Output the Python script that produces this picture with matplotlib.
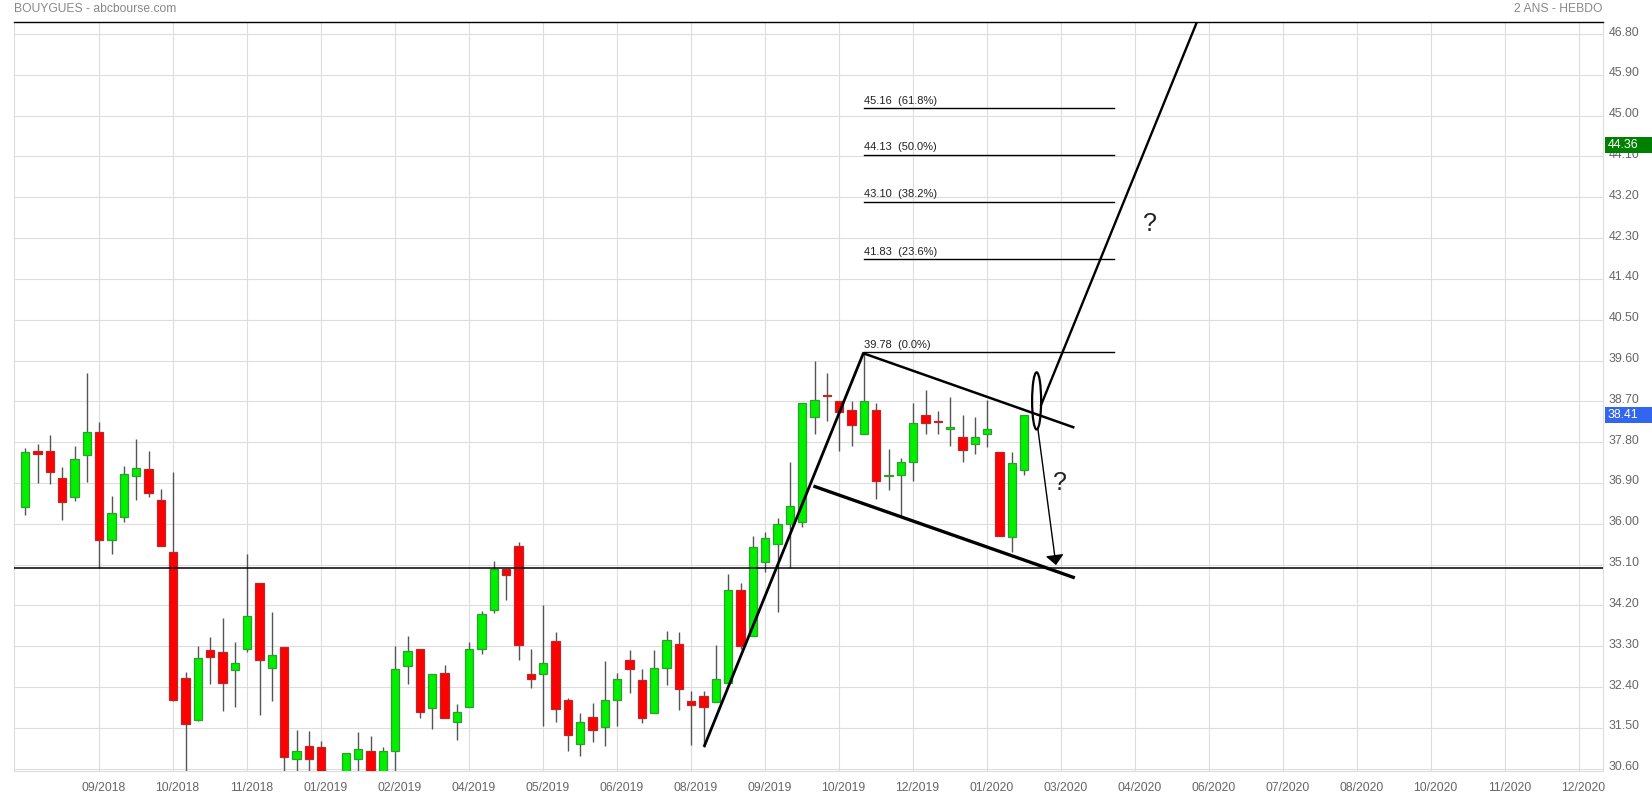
import matplotlib
matplotlib.use("Agg")
import matplotlib.pyplot as plt
from matplotlib.patches import Ellipse, Rectangle, FancyArrowPatch
from matplotlib.transforms import ScaledTranslation, blended_transform_factory
import numpy as np

plt.rcParams['font.family'] = ['Liberation Sans', 'DejaVu Sans']

# Weekly candles (index 0 = first week shown)
opens = [36.36, 37.60, 37.60, 37.02, 36.58, 37.52, 38.02, 35.65, 36.16, 37.05,
         37.20, 36.52, 35.37, 32.59, 31.67, 33.21, 33.17, 32.77, 33.25, 34.69,
         32.83, 33.28, 30.81, 31.09, 31.07, 30.45, 30.45, 30.82, 30.98, 30.50,
         31.00, 32.86, 33.25, 31.93, 32.70, 31.64, 31.95, 33.25, 34.09, 35.00,
         35.52, 32.68, 32.68, 33.41, 32.11, 31.14, 31.75, 31.51, 32.11, 32.99,
         32.55, 31.82, 32.81, 33.34, 32.09, 32.20, 32.06, 32.50, 34.53, 33.52,
         35.15, 35.55, 35.99, 36.05, 38.35, 38.83, 38.70, 38.50, 37.99, 38.52,
         37.05, 37.07, 37.36, 38.41, 38.27, 38.08, 37.91, 37.75, 37.99, 37.58,
         35.70, 37.18]
highs = [37.67, 37.76, 37.95, 37.25, 37.72, 39.32, 38.24, 36.61, 37.27, 37.87,
         37.60, 36.77, 37.14, 32.73, 33.31, 33.50, 33.92, 33.39, 35.33, 34.69,
         34.05, 33.29, 31.45, 31.43, 31.21, 30.50, 30.94, 31.41, 31.32, 31.08,
         33.31, 33.53, 33.25, 32.68, 32.89, 32.02, 33.39, 34.07, 35.17, 35.00,
         35.59, 33.23, 34.21, 33.61, 32.15, 31.82, 32.04, 32.97, 32.72, 33.21,
         32.79, 33.21, 33.63, 33.61, 32.31, 32.31, 33.32, 34.89, 34.69, 35.72,
         35.81, 36.12, 37.36, 38.66, 39.59, 39.32, 38.70, 38.70, 39.76, 38.66,
         37.66, 37.44, 38.66, 38.94, 38.48, 38.79, 38.41, 38.35, 38.74, 37.58,
         37.58, 38.41]
lows = [36.20, 36.91, 36.88, 36.09, 36.51, 36.93, 35.02, 35.34, 36.05, 36.53,
        36.60, 35.52, 32.10, 30.40, 31.66, 32.47, 31.88, 31.97, 33.18, 31.79,
        32.10, 30.45, 30.45, 30.45, 30.30, 30.25, 30.40, 30.45, 30.40, 30.45,
        30.56, 32.47, 31.72, 31.48, 31.71, 31.23, 31.95, 33.12, 34.03, 34.33,
        32.99, 32.37, 31.55, 31.64, 30.98, 30.87, 31.18, 31.11, 31.55, 32.26,
        31.60, 31.82, 32.44, 31.89, 31.12, 31.08, 32.06, 32.50, 33.23, 33.52,
        34.93, 34.06, 35.02, 35.92, 37.99, 38.26, 37.60, 37.72, 37.99, 36.54,
        36.74, 36.16, 36.95, 37.97, 37.97, 37.71, 37.36, 37.53, 37.69, 35.72,
        35.37, 37.07]
closes = [37.58, 37.55, 37.15, 36.49, 37.42, 38.02, 35.65, 36.23, 37.09, 37.22,
          36.69, 35.52, 32.11, 31.58, 33.03, 33.06, 32.50, 32.92, 33.96, 32.99,
          33.10, 30.85, 30.98, 30.82, 30.45, 30.40, 30.94, 31.03, 30.50, 31.00,
          32.79, 33.19, 31.84, 32.68, 31.71, 31.84, 33.23, 34.00, 35.00, 34.86,
          33.32, 32.57, 32.94, 31.91, 31.34, 31.64, 31.45, 32.11, 32.57, 32.79,
          31.71, 32.83, 33.43, 32.35, 32.00, 31.97, 32.57, 34.55, 33.30, 35.48,
          35.68, 35.99, 36.39, 38.66, 38.74, 38.81, 38.46, 38.17, 38.70, 36.95,
          37.07, 37.36, 38.22, 38.22, 38.24, 38.13, 37.62, 37.91, 38.08, 35.72,
          37.33, 38.41]

month_labels = ['09/2018', '10/2018', '11/2018', '01/2019', '02/2019', '04/2019',
                '05/2019', '06/2019', '08/2019', '09/2019', '10/2019', '12/2019',
                '01/2020', '03/2020', '04/2020', '06/2020', '07/2020', '08/2020',
                '10/2020', '11/2020', '12/2020']
month_ticks = [6 + 6 * k for k in range(len(month_labels))]

y_ticks = [30.60, 31.50, 32.40, 33.30, 34.20, 35.10, 36.00, 36.90, 37.80,
           38.70, 39.60, 40.50, 41.40, 42.30, 43.20, 44.10, 45.00, 45.90, 46.80]

fib_levels = [39.78, 41.83, 43.10, 44.13, 45.16]
fib_pcts = ['0.0%', '23.6%', '38.2%', '50.0%', '61.8%']

support_level = 35.02
last_price = 38.41
marker_price = 44.36

# annotation geometry (week index, price)
trend_up = ([55.03, 67.95], [31.08, 39.76])
channel_top = ([67.95, 84.97], [39.76, 38.13])
channel_bottom = ([64.03, 84.97], [36.82, 34.82])
breakout_line = ([82.36, 95.2], [38.62, 47.2])
down_arrow = ((82.1, 38.10), (83.57, 35.09))
fib_x = (68.03, 88.25)

W, H = 1652, 798
fig = plt.figure(figsize=(W / 100, H / 100), dpi=100)
ax = fig.add_axes([14.3 / W, 1 - 771 / H, (1602.7 - 14.3) / W, (771 - 22) / H])
ax.set_xlim(-0.892, 127.9)
ax.set_ylim(30.549, 47.065)

x = np.arange(len(opens))
o = np.array(opens); c = np.array(closes); h = np.array(highs); l = np.array(lows)
up = c >= o
face = np.where(up, '#00f000', '#ff0000')
edge = np.where(up, '#2e9e2e', '#b52a2a')

ax.vlines(x, l, h, color='#555555', lw=1.0, zorder=2)
body_bottom = np.minimum(o, c)
body_h = np.maximum(np.abs(c - o), 0.025)
ax.bar(x, body_h, bottom=body_bottom, width=0.68, color=face, edgecolor=edge,
       linewidth=0.9, zorder=3)

# grid
ax.set_xticks(month_ticks)
ax.set_xticklabels(month_labels)
ax.set_yticks(y_ticks)
ax.set_yticklabels([f"{v:.2f}" for v in y_ticks])
ax.grid(True, color='#dddddd', lw=0.8, zorder=0)
ax.set_axisbelow(True)
ax.yaxis.tick_right()
ax.tick_params(axis='both', length=0, colors='#666666')
ax.tick_params(axis='x', pad=8, labelsize=8.7)
ax.tick_params(axis='y', pad=4, labelsize=8.9)
for lab in ax.get_xticklabels():
    lab.set_transform(lab.get_transform() + ScaledTranslation(4 / 100, 0, fig.dpi_scale_trans))
for lab in ax.get_yticklabels():
    lab.set_transform(lab.get_transform() + ScaledTranslation(0, 3 / 100, fig.dpi_scale_trans))

for s in ['left', 'right', 'bottom']:
    ax.spines[s].set_color('#dddddd')
    ax.spines[s].set_linewidth(0.8)
ax.spines['top'].set_color('black')
ax.spines['top'].set_linewidth(1.0)

# support line
ax.axhline(support_level, color='black', lw=1.1, zorder=4)

# fibonacci
for lvl, pct in zip(fib_levels, fib_pcts):
    ax.plot(fib_x, [lvl, lvl], color='black', lw=1.0, zorder=4)
    ax.annotate(f"{lvl:.2f}  ({pct})", xy=(fib_x[0], lvl), xytext=(0, 2),
                textcoords='offset points', va='bottom', ha='left', fontsize=8,
                color='#222222')

# drawn lines
ax.plot(*trend_up, color='black', lw=2.0, zorder=5, solid_capstyle='butt')
ax.plot(*channel_top, color='black', lw=1.8, zorder=5)
ax.plot(*channel_bottom, color='black', lw=2.4, zorder=5)
ax.plot(*breakout_line, color='black', lw=1.7, zorder=5)
ax.add_patch(Ellipse((82.0, 38.71), 0.73, 1.26, fill=False, edgecolor='black',
                     lw=1.6, zorder=6))
ax.add_patch(FancyArrowPatch(down_arrow[0], down_arrow[1],
                             arrowstyle='-|>,head_length=0.6,head_width=0.55',
                             mutation_scale=10, color='black', lw=1.0,
                             shrinkA=0, shrinkB=0, zorder=6))
ax.text(91.15, 42.62, '?', fontsize=18, ha='center', va='center', color='#222222')
ax.text(83.9, 36.90, '?', fontsize=18, ha='center', va='center', color='#222222')

# price boxes on right axis
bt = blended_transform_factory(fig.transFigure, ax.transData)
box_h = 16 / 45.35
for price, col in [(marker_price, '#008000'), (last_price, '#3366ee')]:
    ax.add_patch(Rectangle((1605 / W, price - box_h / 2), (W - 1605) / W, box_h,
                           transform=bt, facecolor=col, edgecolor='none',
                           clip_on=False, zorder=10))
    ax.text(1608 / W, price, f"{price:.2f}", transform=bt, color='white',
            fontsize=8.9, va='center', ha='left', zorder=11, clip_on=False)

fig.text(14.3 / W, 1 - 9 / H, 'BOUYGUES - abcbourse.com', color='#888888',
         fontsize=8.7, va='center', ha='left')
fig.text(1602.7 / W, 1 - 9 / H, '2 ANS - HEBDO', color='#888888',
         fontsize=8.7, va='center', ha='right')

fig.savefig('out.png', dpi=100)
